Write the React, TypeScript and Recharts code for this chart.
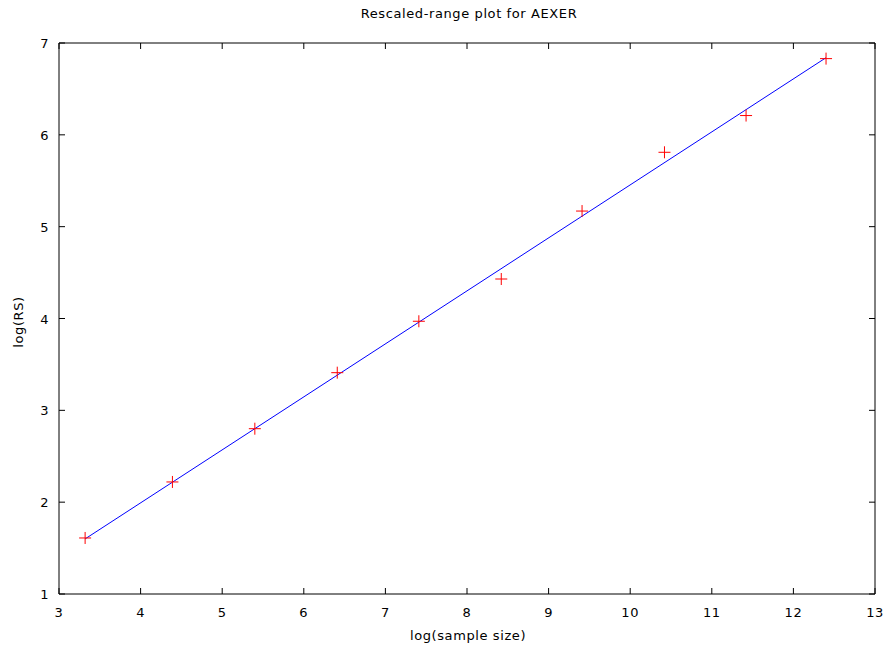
import React from "react";
import { ScatterChart, Scatter, XAxis, YAxis } from "recharts";

// log(sample size) and log(RS)
const logSize = [3.32, 4.39, 5.4, 6.41, 7.41, 8.42, 9.41, 10.42, 11.42, 12.4];
const logRS = [1.61, 2.22, 2.8, 3.41, 3.97, 4.43, 5.17, 5.81, 6.21, 6.83];

// fitted line end points
const fitX = [3.32, 12.4];
const fitY = [1.6, 6.84];

const xTicks = [3, 4, 5, 6, 7, 8, 9, 10, 11, 12, 13];
const yTicks = [1, 2, 3, 4, 5, 6, 7];

const FONT = "'DejaVu Sans', Verdana, sans-serif";
const FS = 13;
const LS = 0.6;

const points = logSize.map((x, i) => ({ x, y: logRS[i] }));
const fit = fitX.map((x, i) => ({ x, y: fitY[i] }));

const BottomTick = (props: any) => {
  const { x, y, payload } = props;
  return (
    <g>
      <line x1={x} y1={y} x2={x} y2={y - 6} stroke="#000" />
      <text x={x} y={y + 23} textAnchor="middle" fontSize={FS} letterSpacing={LS} fontFamily={FONT} fill="#000">
        {payload.value}
      </text>
    </g>
  );
};

const TopTick = (props: any) => {
  const { x, y } = props;
  return <line x1={x} y1={y} x2={x} y2={y + 6} stroke="#000" />;
};

const LeftTick = (props: any) => {
  const { x, y, payload } = props;
  return (
    <g>
      <line x1={x} y1={y} x2={x + 6} y2={y} stroke="#000" />
      <text x={x - 10} y={y + 5} textAnchor="end" fontSize={FS} letterSpacing={LS} fontFamily={FONT} fill="#000">
        {payload.value}
      </text>
    </g>
  );
};

const RightTick = (props: any) => {
  const { x, y } = props;
  return <line x1={x} y1={y} x2={x - 6} y2={y} stroke="#000" />;
};

const Plus = (props: any) => {
  const { cx, cy } = props;
  return (
    <g stroke="#ff0000" strokeWidth={1}>
      <line x1={cx - 6} y1={cy} x2={cx + 6} y2={cy} />
      <line x1={cx} y1={cy - 6} x2={cx} y2={cy + 6} />
    </g>
  );
};

const App = () => {
  return (
    <div
      style={{
        position: "absolute",
        left: 0,
        top: 0,
        width: 891,
        height: 652,
        background: "#fff",
        fontFamily: FONT,
        fontSize: FS,
        letterSpacing: LS,
        color: "#000",
      }}
    >
      <div style={{ position: "absolute", left: 469, top: 6, transform: "translateX(-50%)", whiteSpace: "nowrap" }}>
        Rescaled-range plot for AEXER
      </div>
      <div style={{ position: "absolute", left: 468, top: 628, transform: "translateX(-50%)", whiteSpace: "nowrap" }}>
        log(sample size)
      </div>
      <div
        style={{
          position: "absolute",
          left: 18,
          top: 322,
          transform: "translate(-50%, -50%) rotate(-90deg)",
          whiteSpace: "nowrap",
        }}
      >
        log(RS)
      </div>
      <ScatterChart width={891} height={652} margin={{ top: 13, right: 0, bottom: 28, left: 29 }}>
        <XAxis
          xAxisId="b"
          type="number"
          dataKey="x"
          domain={[3, 13]}
          ticks={xTicks}
          allowDataOverflow
          height={30}
          tickSize={0}
          tickMargin={0}
          tickLine={false}
          axisLine={{ stroke: "#000" }}
          tick={<BottomTick />}
        />
        <XAxis
          xAxisId="t"
          orientation="top"
          type="number"
          dataKey="x"
          domain={[3, 13]}
          ticks={xTicks}
          allowDataOverflow
          height={30}
          tickSize={0}
          tickMargin={0}
          tickLine={false}
          axisLine={{ stroke: "#000" }}
          tick={<TopTick />}
        />
        <YAxis
          yAxisId="l"
          type="number"
          dataKey="y"
          domain={[1, 7]}
          ticks={yTicks}
          allowDataOverflow
          width={30}
          tickSize={0}
          tickMargin={0}
          tickLine={false}
          axisLine={{ stroke: "#000" }}
          tick={<LeftTick />}
        />
        <YAxis
          yAxisId="r"
          orientation="right"
          type="number"
          dataKey="y"
          domain={[1, 7]}
          ticks={yTicks}
          allowDataOverflow
          width={16}
          tickSize={0}
          tickMargin={0}
          tickLine={false}
          axisLine={{ stroke: "#000" }}
          tick={<RightTick />}
        />
        <Scatter
          xAxisId="b"
          yAxisId="l"
          data={fit}
          line={{ stroke: "#0000ff", strokeWidth: 1 }}
          shape={() => null}
          isAnimationActive={false}
        />
        <Scatter xAxisId="b" yAxisId="l" data={points} shape={<Plus />} isAnimationActive={false} />
      </ScatterChart>
    </div>
  );
};

export default App;
